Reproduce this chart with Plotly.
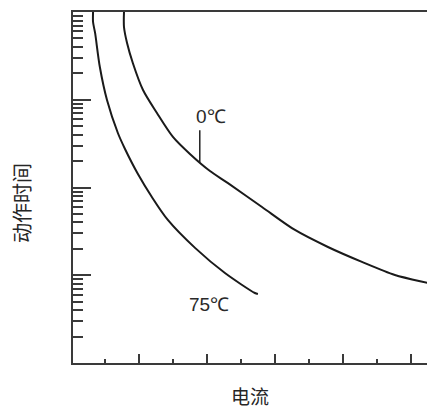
import numpy as np
import plotly.graph_objects as go

# ---- data ----
# x: current (arbitrary linear units), y: operating time (log scale)
curve_0C_x = [1.56, 1.56, 1.65, 1.82, 2.12, 2.53, 3.00, 3.50, 4.09, 4.62, 5.62, 6.59, 7.56, 8.56, 9.53, 10.50, 10.62]
curve_0C_y = [10000, 6745, 4436, 2624, 1291, 706, 377, 241, 154, 112, 60, 32.8, 21.0, 14.2, 10.07, 8.16, 7.94]

curve_75C_x = [0.65, 0.65, 0.71, 0.85, 1.06, 1.38, 1.59, 1.97, 2.38, 2.85, 3.65, 4.53, 5.41, 5.50]
curve_75C_y = [10000, 7690, 5770, 2360, 993, 418, 275, 142.6, 78, 42.7, 20.5, 10.6, 6.28, 6.11]

label_names = ["0℃", "75℃"]
label_x = [3.79, 3.79]

x_major = [2, 4, 6, 8, 10]
x_minor = [1, 3, 5, 7, 9]
y_major = [10, 100, 1000]
y_minor = [m * d for d in (1, 10, 100, 1000) for m in range(2, 10)]

x_title = "电流"
y_title = "动作时间"

LINE = "#1a1a1a"
AX = "#3a3a3a"

fig = go.Figure()
curves = [(curve_0C_x, curve_0C_y), (curve_75C_x, curve_75C_y)]
for xs, ys in curves:
    fig.add_trace(go.Scatter(x=xs, y=ys, mode="lines",
                             line=dict(color=LINE, width=2, shape="spline", smoothing=0.8),
                             hoverinfo="skip", showlegend=False))

# leader lines and labels, anchored on the curves
geom = [(0, 32, 11, 46), (0, -36, 9, -53)]  # pixel geometry: y0, y1, text xshift, text yshift
for (xs, ys), name, lx, (p0, p1, dx, dy) in zip(curves, label_names, label_x, geom):
    ly = 10 ** np.interp(lx, xs, np.log10(ys))
    fig.add_shape(type="line", xref="x", yref="y", ysizemode="pixel", yanchor=ly, x0=lx, x1=lx,
                  y0=p0, y1=p1, line=dict(color="#222", width=1.5))
    fig.add_annotation(x=lx, y=np.log10(ly), xref="x", yref="y", text=name, showarrow=False,
                       xshift=dx, yshift=dy, xanchor="center", yanchor="middle",
                       font=dict(family="Liberation Sans, Arial", size=19, color="#2a2a2a"))

fig.add_annotation(x=0.489, y=-0.093, xref="paper", yref="paper", text=x_title, showarrow=False,
                   xanchor="center", yanchor="middle",
                   font=dict(family="Noto Sans CJK SC", size=19, color="#262626"))
fig.add_annotation(x=-0.141, y=0.456, xref="paper", yref="paper", text=y_title, showarrow=False,
                   textangle=-90, xanchor="center", yanchor="middle",
                   font=dict(family="Noto Sans CJK SC", size=20, color="#262626"))

fig.update_layout(
    width=427, height=400, margin=dict(l=65, r=0, t=4, b=45),
    paper_bgcolor="white", plot_bgcolor="white",
    xaxis=dict(range=[0.06, 10.71], showgrid=False, zeroline=False, showline=True, linecolor=AX, linewidth=2,
               mirror=True, ticks="inside", tickvals=x_major, ticklen=9, tickwidth=2, tickcolor=AX,
               showticklabels=False,
               minor=dict(ticks="inside", tickvals=x_minor, ticklen=4, tickwidth=2, tickcolor=AX, showgrid=False)),
    yaxis=dict(type="log", range=[0, 4], showgrid=False, zeroline=False, showline=True, linecolor=AX, linewidth=2,
               ticks="inside", tickvals=y_major, ticklen=18, tickwidth=2, tickcolor=AX, showticklabels=False,
               minor=dict(ticks="inside", tickvals=y_minor, ticklen=10, tickwidth=2, tickcolor=AX, showgrid=False)),
)

fig.write_html("out.html")
